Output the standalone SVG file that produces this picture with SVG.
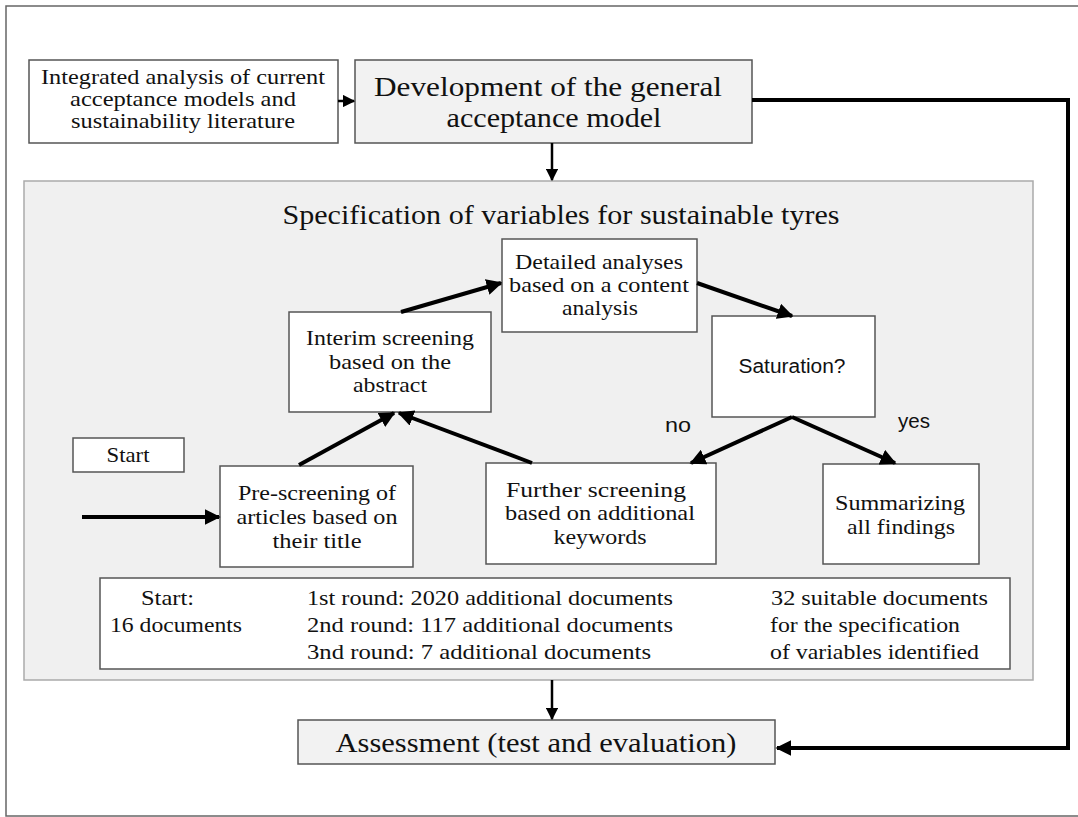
<svg xmlns="http://www.w3.org/2000/svg" width="1078" height="817" viewBox="0 0 1078 817">
<defs>
<style>
.box{fill:#fff;stroke:#555;stroke-width:1.5}
.gbox{fill:#f2f2f2;stroke:#555;stroke-width:1.5}
.panel{fill:#f0f0f0;stroke:#aaa;stroke-width:1.5}
.t{font-family:"Liberation Serif",serif;font-size:21px;fill:#111;text-anchor:middle}
.tl{font-family:"Liberation Serif",serif;font-size:28px;fill:#111;text-anchor:middle}
.ts{font-family:"Liberation Serif",serif;font-size:21px;fill:#111}
.sans{font-family:"Liberation Sans",Arial,sans-serif;font-size:20px;fill:#111;text-anchor:middle}
.c{fill:none;stroke:#000;stroke-width:4}
.cm{fill:none;stroke:#000;stroke-width:2.5}
</style>
<marker id="ah" viewBox="0 0 10 10" refX="9" refY="5" markerWidth="4" markerHeight="4" orient="auto" markerUnits="strokeWidth">
<path d="M0,0 L10,5 L0,10 z" fill="#000"/>
</marker>
<marker id="ahm" viewBox="0 0 10 10" refX="9" refY="5" markerWidth="5" markerHeight="5" orient="auto" markerUnits="strokeWidth">
<path d="M0,0 L10,5 L0,10 z" fill="#000"/>
</marker>
</defs>
<rect x="6" y="6" width="1085" height="810" fill="#fff" stroke="#666" stroke-width="1.5"/>
<g id="panel">
<rect class="panel" x="24" y="181" width="1009" height="499"/>
<text class="tl" x="561" y="224" textLength="557" lengthAdjust="spacingAndGlyphs">Specification of variables for sustainable tyres</text>
</g>
<g id="integrated">
<rect class="box" x="29" y="60" width="309" height="83"/>
<text class="t" x="183" y="84" font-size="17.5" textLength="284" lengthAdjust="spacingAndGlyphs">Integrated analysis of current</text>
<text class="t" x="183" y="106" font-size="17.5" textLength="226" lengthAdjust="spacingAndGlyphs">acceptance models and</text>
<text class="t" x="183" y="128" font-size="17.5" textLength="224" lengthAdjust="spacingAndGlyphs">sustainability literature</text>
</g>
<g id="development">
<rect class="gbox" x="355" y="60" width="397" height="83"/>
<text class="tl" x="548" y="96" textLength="348" lengthAdjust="spacingAndGlyphs">Development of the general</text>
<text class="tl" x="554" y="127" textLength="215" lengthAdjust="spacingAndGlyphs">acceptance model</text>
</g>
<g id="start">
<rect class="box" x="73" y="438" width="111" height="34"/>
<text class="t" x="128" y="462" textLength="43" lengthAdjust="spacingAndGlyphs">Start</text>
</g>
<g id="prescreening">
<rect class="box" x="220" y="466" width="193" height="101"/>
<text class="t" x="317" y="500" textLength="158" lengthAdjust="spacingAndGlyphs">Pre-screening of</text>
<text class="t" x="317" y="524" textLength="161" lengthAdjust="spacingAndGlyphs">articles based on</text>
<text class="t" x="317" y="548" textLength="89" lengthAdjust="spacingAndGlyphs">their title</text>
</g>
<g id="interim">
<rect class="box" x="289" y="312" width="202" height="100"/>
<text class="t" x="390" y="345" textLength="168" lengthAdjust="spacingAndGlyphs">Interim screening</text>
<text class="t" x="390" y="369" textLength="122" lengthAdjust="spacingAndGlyphs">based on the</text>
<text class="t" x="390" y="392" textLength="74" lengthAdjust="spacingAndGlyphs">abstract</text>
</g>
<g id="detailed">
<rect class="box" x="502" y="239" width="195" height="93"/>
<text class="t" x="599" y="269" textLength="168" lengthAdjust="spacingAndGlyphs">Detailed analyses</text>
<text class="t" x="599" y="292" textLength="180" lengthAdjust="spacingAndGlyphs">based on a content</text>
<text class="t" x="600" y="315" textLength="76" lengthAdjust="spacingAndGlyphs">analysis</text>
</g>
<g id="saturation">
<rect class="box" x="712" y="316" width="163" height="101"/>
<text class="sans" x="792" y="373" textLength="107" lengthAdjust="spacingAndGlyphs">Saturation?</text>
</g>
<g id="further">
<rect class="box" x="486" y="463" width="230" height="101"/>
<text class="t" x="596" y="497" textLength="180" lengthAdjust="spacingAndGlyphs">Further screening</text>
<text class="t" x="600" y="520" textLength="190" lengthAdjust="spacingAndGlyphs">based on additional</text>
<text class="t" x="600" y="544" textLength="93" lengthAdjust="spacingAndGlyphs">keywords</text>
</g>
<g id="summarizing">
<rect class="box" x="823" y="464" width="156" height="100"/>
<text class="t" x="900" y="510" textLength="130" lengthAdjust="spacingAndGlyphs">Summarizing</text>
<text class="t" x="901" y="534" textLength="108" lengthAdjust="spacingAndGlyphs">all findings</text>
</g>
<g id="summary">
<rect class="box" x="100" y="578" width="910" height="91"/>
<text class="ts" x="141" y="605" textLength="53" lengthAdjust="spacingAndGlyphs">Start:</text>
<text class="ts" x="110" y="632" textLength="132" lengthAdjust="spacingAndGlyphs">16 documents</text>
<text class="ts" x="307" y="605" textLength="366" lengthAdjust="spacingAndGlyphs">1st round: 2020 additional documents</text>
<text class="ts" x="307" y="632" textLength="366" lengthAdjust="spacingAndGlyphs">2nd round: 117 additional documents</text>
<text class="ts" x="307" y="659" textLength="344" lengthAdjust="spacingAndGlyphs">3nd round: 7 additional documents</text>
<text class="ts" x="771" y="605" textLength="217" lengthAdjust="spacingAndGlyphs">32 suitable documents</text>
<text class="ts" x="770" y="632" textLength="190" lengthAdjust="spacingAndGlyphs">for the specification</text>
<text class="ts" x="770" y="659" textLength="209" lengthAdjust="spacingAndGlyphs">of variables identified</text>
</g>
<g id="assessment">
<rect class="gbox" x="298" y="720" width="477" height="44"/>
<text class="tl" x="536" y="752" textLength="401" lengthAdjust="spacingAndGlyphs">Assessment (test and evaluation)</text>
</g>
<g id="labels">
<text class="sans" x="678" y="432" textLength="26" lengthAdjust="spacingAndGlyphs">no</text>
<text class="sans" x="914" y="428" textLength="32" lengthAdjust="spacingAndGlyphs">yes</text>
</g>
<g id="connectors">
<line class="cm" x1="338" y1="101" x2="354" y2="101" marker-end="url(#ahm)"/>
<line class="cm" x1="552" y1="143" x2="552" y2="180" marker-end="url(#ahm)"/>
<polyline class="c" points="752,100 1068,100 1068,748 777,748" marker-end="url(#ah)"/>
<line class="cm" x1="552" y1="680" x2="552" y2="719" marker-end="url(#ahm)"/>
<line class="c" x1="82" y1="517" x2="219" y2="517" marker-end="url(#ah)"/>
<line class="c" x1="299" y1="465" x2="394" y2="413" marker-end="url(#ah)"/>
<line class="c" x1="532" y1="463" x2="399" y2="413" marker-end="url(#ah)"/>
<line class="c" x1="401" y1="312" x2="501" y2="283" marker-end="url(#ah)"/>
<line class="c" x1="697" y1="283" x2="792" y2="316" marker-end="url(#ah)"/>
<line class="c" x1="792" y1="417" x2="691" y2="463" marker-end="url(#ah)"/>
<line class="c" x1="792" y1="417" x2="895" y2="463" marker-end="url(#ah)"/>
</g>
</svg>
